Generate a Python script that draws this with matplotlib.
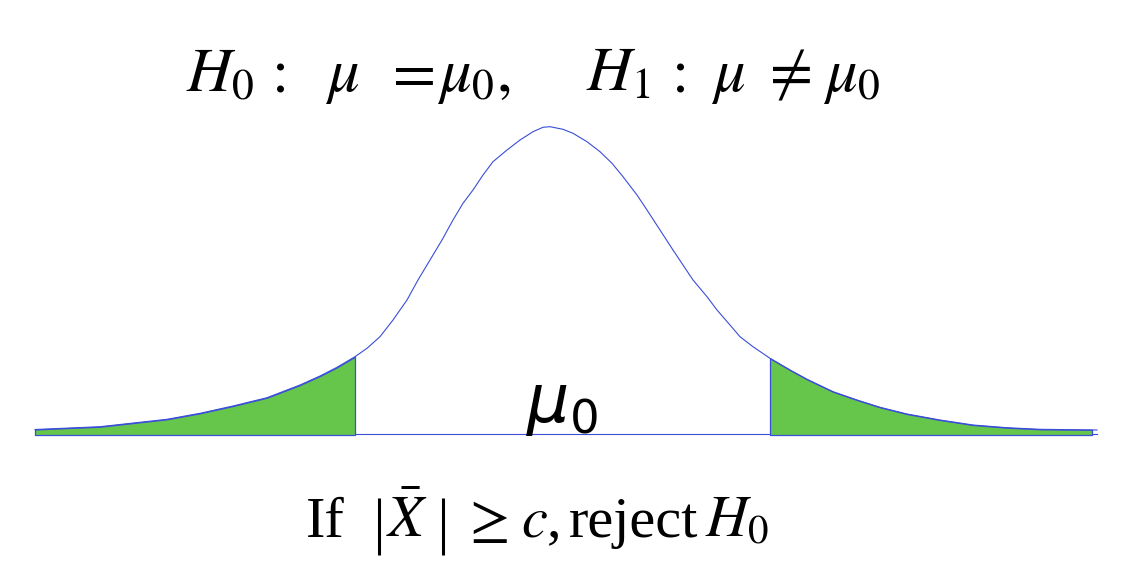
import numpy as np
import matplotlib.pyplot as plt

# bell curve, pixel coordinates (y grows downward)
curve_x = [35, 100, 167, 200, 233, 267, 300, 320, 337, 355,
           367, 380, 393, 407, 418, 430, 442, 453, 463, 473, 483, 493, 507, 520, 533, 543, 550,
           563, 573, 587, 600, 612, 623, 637, 647, 660, 673, 683, 693, 707, 717, 730, 740, 753, 770,
           790, 807, 833, 857, 880, 907, 940, 973, 1007, 1040, 1097]
curve_y = [429.5, 426.7, 419.3, 413.3, 406, 397.7, 385, 376, 367.3, 356.7,
           348.3, 336.7, 320, 300, 280, 260, 240, 220, 203.3, 190, 175, 161.7, 150, 140, 131.7, 127.3, 126.7,
           129.3, 133.3, 141.7, 151.7, 163.3, 176.7, 195, 210, 230, 250, 265, 280, 296.7, 310, 325, 336.7, 346.7, 358.3,
           370, 379.3, 391.7, 400, 407.3, 414, 420, 425, 427.7, 429.3, 430]
base_y = 435
left_cut = 355
right_cut = 770
right_end = 1092

curve_x = np.array(curve_x, dtype=float)
curve_y = np.array(curve_y)

fig = plt.figure(figsize=(11.46, 5.66), dpi=100)
ax = fig.add_axes([0, 0, 1, 1])
ax.set_xlim(0, 1146)
ax.set_ylim(566, 0)
ax.axis('off')

blue = '#3a4ed8'
green = '#66c64c'

# shaded tails
m = curve_x <= left_cut
ax.fill_between(curve_x[m], curve_y[m], base_y, color=green, edgecolor=blue, lw=0.9)
m = (curve_x >= right_cut) & (curve_x <= right_end)
xs = np.append(curve_x[m], right_end)
ys = np.append(curve_y[m], curve_y[-2] + 0.5)
ax.fill_between(xs, ys, base_y, color=green, edgecolor=blue, lw=0.9)

# curve and baseline
ax.plot(curve_x, curve_y, color=blue, lw=0.8, solid_joinstyle='round')
ax.plot([left_cut, right_cut], [base_y - 1, base_y - 1], color=blue, lw=0.8)
ax.plot([right_end, 1097], [base_y - 1, base_y - 1], color=blue, lw=0.8)

# top line: hypotheses
top = [(186, r'$H_0$'), (262, r'$:$'), (325, r'$\mu$'), (383, r'$=$'),
       (437, r'$\mu_0,$'), (586, r'$H_1$'), (662, r'$:$'), (711, r'$\mu$'),
       (760, r'$\neq$'), (823, r'$\mu_0$')]
for x, s in top:
    ax.text(x, 91, s, ha='left', va='baseline', fontsize=45, math_fontfamily='stix')

ax.text(526, 422, r'$\mu_0$', ha='left', va='baseline', fontsize=48,
        math_fontfamily='dejavusans')

# bottom line: decision rule
bottom = [(306, 'If'), (386, r'$\bar{X}$'), (461, r'$\geq$'),
          (521, r'$c$,'), (569, 'reject'), (705, r'$H_0$')]
for x, s in bottom:
    ax.text(x, 537, s, ha='left', va='baseline', fontsize=42,
            family='Liberation Serif', math_fontfamily='stix')
# tall absolute-value bars
for bx in (379, 443):
    ax.plot([bx, bx], [498, 555], color='black', lw=2.2, solid_capstyle='butt')

fig.savefig('out.png', dpi=100)
